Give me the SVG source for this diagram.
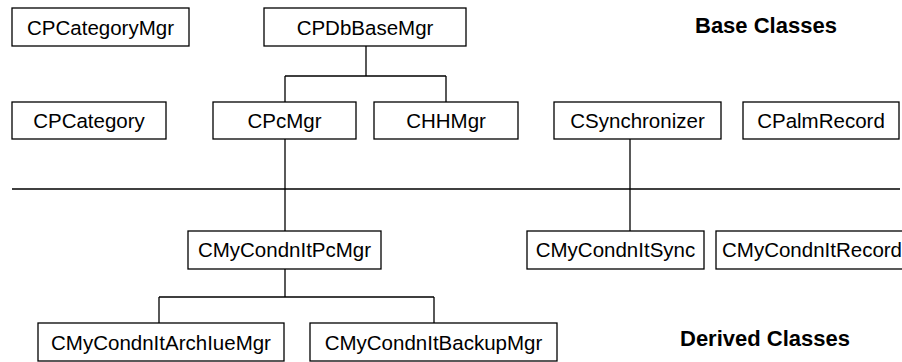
<svg xmlns="http://www.w3.org/2000/svg" width="902" height="362" viewBox="0 0 902 362">
<style>
.box{fill:#fff;stroke:#000;stroke-width:1.3}
.t{font-family:"Liberation Sans",Arial,sans-serif;font-size:20.5px;fill:#000;text-anchor:middle}
.h{font-family:"Liberation Sans",Arial,sans-serif;font-size:22px;font-weight:bold;fill:#000}
.c{stroke:#000;stroke-width:1.3;fill:none}
</style>
<rect width="902" height="362" fill="#fff"/>
<g id="connectors">
<path class="c" d="M366,46V76M285,76H446M285,76V102M446,76V102"/>
<path class="c" d="M285,139V231"/>
<path class="c" d="M630,139V231"/>
<path class="c" d="M285,269V297M159,297H434M159,297V323M434,297V323"/>
<path class="c" d="M12,189H900"/>
</g>
<g id="CPCategoryMgr"><rect class="box" x="12" y="8" width="177" height="38"/><text class="t" x="100.5" y="35">CPCategoryMgr</text></g>
<g id="CPDbBaseMgr"><rect class="box" x="264" y="8" width="202" height="38"/><text class="t" x="365" y="35">CPDbBaseMgr</text></g>
<g id="CPCategory"><rect class="box" x="12" y="102" width="154" height="37"/><text class="t" x="89" y="128">CPCategory</text></g>
<g id="CPcMgr"><rect class="box" x="213" y="102" width="143" height="37"/><text class="t" x="284.5" y="128">CPcMgr</text></g>
<g id="CHHMgr"><rect class="box" x="374" y="102" width="144" height="37"/><text class="t" x="446" y="128">CHHMgr</text></g>
<g id="CSynchronizer"><rect class="box" x="554" y="102" width="167" height="37"/><text class="t" x="637.5" y="128">CSynchronizer</text></g>
<g id="CPalmRecord"><rect class="box" x="743" y="102" width="156" height="37"/><text class="t" x="821" y="128">CPalmRecord</text></g>
<g id="CMyCondnItPcMgr"><rect class="box" x="188" y="231" width="193" height="38"/><text class="t" x="284.5" y="257">CMyCondnItPcMgr</text></g>
<g id="CMyCondnItSync"><rect class="box" x="527" y="231" width="177" height="38"/><text class="t" x="615.5" y="257">CMyCondnItSync</text></g>
<g id="CMyCondnItRecord"><rect class="box" x="716" y="231" width="200" height="38"/><text class="t" x="722" y="257" style="text-anchor:start">CMyCondnItRecord</text></g>
<g id="CMyCondnItArchIueMgr"><rect class="box" x="38" y="323" width="246" height="38"/><text class="t" x="161" y="350">CMyCondnItArchIueMgr</text></g>
<g id="CMyCondnItBackupMgr"><rect class="box" x="310" y="323" width="247" height="38"/><text class="t" x="433.5" y="350">CMyCondnItBackupMgr</text></g>
<g id="labels">
<text class="h" x="695" y="33">Base Classes</text>
<text class="h" x="680" y="346">Derived Classes</text>
</g>
</svg>
